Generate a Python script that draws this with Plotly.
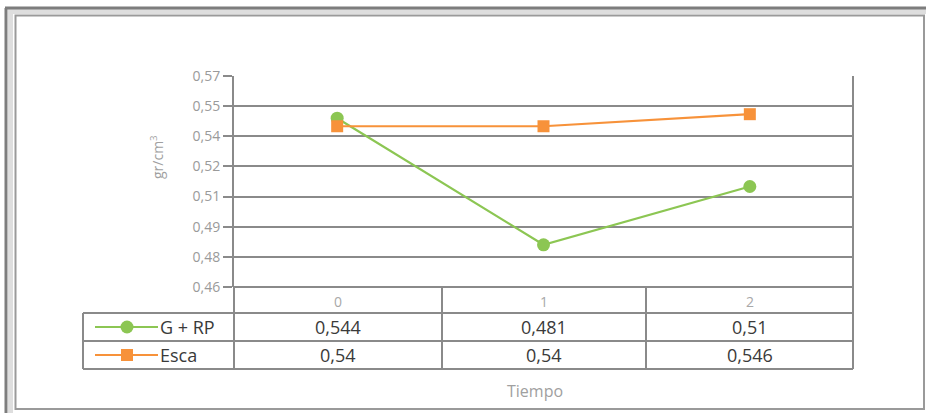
import plotly.graph_objects as go

# ---- data -------------------------------------------------------------
categories = ["0", "1", "2"]
series_names = ["G + RP", "Esca"]
g_rp = [0.544, 0.481, 0.51]
esca = [0.54, 0.54, 0.546]
table_g_rp = ["0,544", "0,481", "0,51"]
table_esca = ["0,54", "0,54", "0,546"]
y_tick_start = 0.46
y_tick_step = 0.015
y_tick_labels = ["0,46", "0,48", "0,49", "0,51", "0,52", "0,54", "0,55", "0,57"]
y_title = "gr/cm<sup>3</sup>"
x_title = "Tiempo"

# ---- geometry (pixels) ------------------------------------------------
W, H = 926, 413
PL, PR, PT, PB = 234, 853, 76, 287          # plot area
COLS = [234, 442, 646, 853]                 # table column edges
TL = 83                                     # table left edge (legend column)
ROWS = [287, 313, 341, 369]                 # table row edges

GREEN = "#8cc653"
ORANGE = "#f7923a"
GRID = "#8a8a8a"
FONT = "Open Sans, Lato, sans-serif"


def fx(p):
    return p / W


def fy(p):
    return 1 - p / H


y_tick_vals = [y_tick_start + i * y_tick_step for i in range(len(y_tick_labels))]
x_idx = list(range(len(categories)))

fig = go.Figure()
fig.add_trace(go.Scatter(
    x=x_idx, y=g_rp, name=series_names[0], mode="lines+markers",
    line=dict(color=GREEN, width=2.2),
    marker=dict(symbol="circle", size=13, color=GREEN),
    showlegend=False, hoverinfo="skip"))
fig.add_trace(go.Scatter(
    x=x_idx, y=esca, name=series_names[1], mode="lines+markers",
    line=dict(color=ORANGE, width=2.2),
    marker=dict(symbol="square", size=12, color=ORANGE),
    showlegend=False, hoverinfo="skip"))

shapes = []


def hline(y, x0, x1, color=GRID, width=2):
    shapes.append(dict(type="line", xref="paper", yref="paper",
                       x0=fx(x0), x1=fx(x1), y0=fy(y), y1=fy(y),
                       line=dict(color=color, width=width)))


def vline(x, y0, y1, color=GRID, width=2):
    shapes.append(dict(type="line", xref="paper", yref="paper",
                       x0=fx(x), x1=fx(x), y0=fy(y0), y1=fy(y1),
                       line=dict(color=color, width=width)))


# outer picture frame
shapes.append(dict(type="rect", xref="paper", yref="paper",
                   x0=fx(10.5), x1=fx(940), y0=fy(11.5), y1=fy(430),
                   line=dict(color="#dedede", width=5)))
hline(8, 5, W, color="#7d7d7d", width=3)
vline(6, 8, H, color="#7d7d7d", width=3)
shapes.append(dict(type="rect", xref="paper", yref="paper",
                   x0=fx(15.5), x1=fx(924), y0=fy(15.5), y1=fy(409),
                   line=dict(color="#9a9a9a", width=2)))

# right border of plot area continuing into the table
vline(PR, PT, ROWS[-1])

# data table
for x in COLS:
    vline(x, ROWS[0], ROWS[-1])
hline(ROWS[0], COLS[0], COLS[-1])
for y in ROWS[1:]:
    hline(y, TL, COLS[-1])
vline(TL, ROWS[1], ROWS[-1])

annotations = []


def label(x, y, text, size, color, xanchor="center", angle=0):
    annotations.append(dict(xref="paper", yref="paper", x=fx(x), y=fy(y),
                            xanchor=xanchor, yanchor="middle", showarrow=False,
                            text=text, textangle=angle,
                            font=dict(family=FONT, size=size, color=color)))


# legend keys inside the table
key_x0, key_x1, key_mid = 95, 158, 127
for row, (color, symbol) in enumerate([(GREEN, "circle"), (ORANGE, "square")]):
    yc = (ROWS[row + 1] + ROWS[row + 2]) / 2
    hline(yc, key_x0, key_x1, color=color, width=2)
    r = 6.5 if symbol == "circle" else 6
    shapes.append(dict(type="circle" if symbol == "circle" else "rect",
                       xref="paper", yref="paper",
                       x0=fx(key_mid - r), x1=fx(key_mid + r),
                       y0=fy(yc - r), y1=fy(yc + r),
                       fillcolor=color, line=dict(width=0)))
    label(158, yc, series_names[row], 18, "#3a3a3a", xanchor="left")

# table header (categories) and values
for i, cat in enumerate(categories):
    xc = (COLS[i] + COLS[i + 1]) / 2
    label(xc, (ROWS[0] + ROWS[1]) / 2 + 1, cat, 14, "#a8a8a8")
    for row, vals in enumerate([table_g_rp, table_esca]):
        label(xc, (ROWS[row + 1] + ROWS[row + 2]) / 2, vals[i], 18, "#3a3a3a")

# axis titles
label(535, 391, x_title, 16, "#a0a0a0")
label(157, 157, y_title, 14, "#a0a0a0", angle=-90)

fig.update_layout(
    width=W, height=H,
    margin=dict(l=0, r=0, t=0, b=0, autoexpand=False),
    paper_bgcolor="white", plot_bgcolor="white",
    shapes=shapes, annotations=annotations,
    xaxis=dict(domain=[fx(PL), fx(PR)], range=[-0.5, len(categories) - 0.5],
               showticklabels=False, showgrid=False, zeroline=False,
               showline=False, ticks="", automargin=False),
    yaxis=dict(domain=[fy(PB), fy(PT)],
               range=[y_tick_vals[0] - 1e-5, y_tick_vals[-1] + 1e-5],
               tickmode="array", tickvals=y_tick_vals, ticktext=y_tick_labels,
               ticks="outside", ticklen=9, tickwidth=2, tickcolor=GRID,
               showgrid=True, gridcolor=GRID, gridwidth=2,
               showline=True, linecolor=GRID, linewidth=2, zeroline=False,
               automargin=False,
               tickfont=dict(family=FONT, size=14, color="#9a9a9a")),
)

fig.write_html(
    "out.html",
    config={"responsive": False, "displayModeBar": False},
    post_script="document.body.style.margin='0';document.body.style.overflow='hidden';",
)
